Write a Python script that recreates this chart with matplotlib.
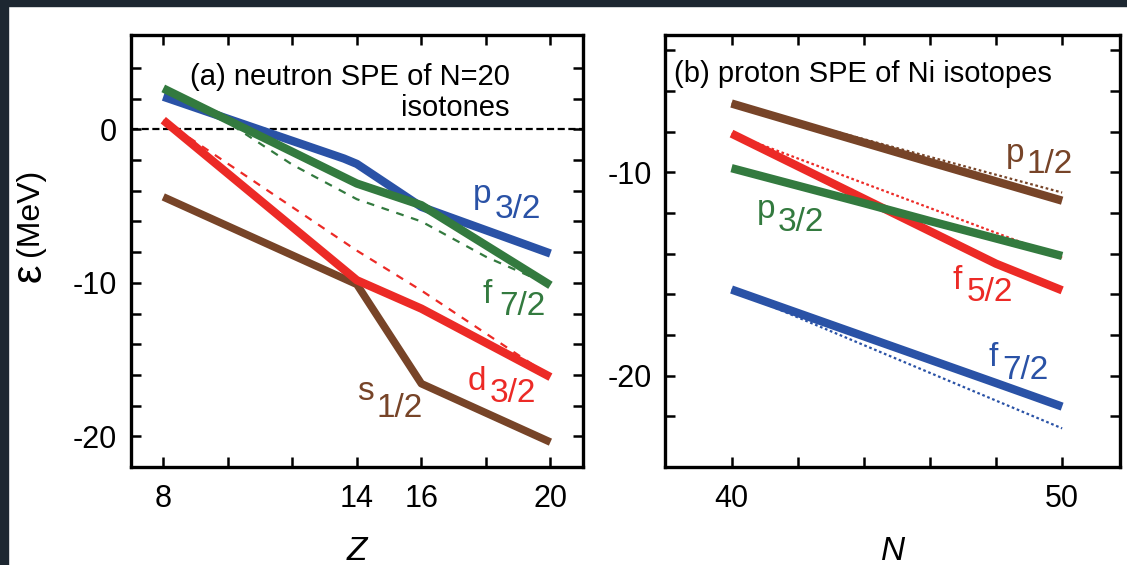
import matplotlib
matplotlib.use("Agg")
import matplotlib.pyplot as plt
from matplotlib.patches import Rectangle

plt.rcParams["font.family"] = ["Liberation Sans", "DejaVu Sans"]

BLUE = "#2a52a6"
GREEN = "#337a3f"
RED = "#ec2a26"
BROWN = "#774428"

# (a) neutron single-particle energies of N=20 isotones
z_grid = [8, 14, 16, 20]
p32_z = [8, 13.6, 14, 16, 20]
p32_e = [2.13, -1.9, -2.25, -5.05, -8.09]
f72_e = [2.67, -3.53, -4.94, -10.16]
d32_e = [0.6, -9.83, -11.68, -16.14]
s12_e = [-4.4, -10.1, -16.57, -20.38]
d32_ref_e = [0.6, -7.9, -10.5, -16.1]
f72_ref_z = [8, 10, 12, 14, 16, 18, 20]
f72_ref_e = [2.6, 0.45, -2.3, -4.55, -6.0, -8.3, -10.16]

# (b) proton single-particle energies of Ni isotopes
n_grid = [40, 42, 44, 46, 48, 50]
p12_n = [-6.62, -7.58, -8.54, -9.5, -10.45, -11.4]
f52_n = [-8.1, -9.7, -11.3, -12.9, -14.5, -15.81]
p32_n = [-9.8, -10.66, -11.52, -12.4, -13.26, -14.12]
f72_n = [-15.77, -16.92, -18.07, -19.22, -20.37, -21.53]
n_ends = [40, 50]
p12_ref = [-6.62, -11.0]
f52_ref = [-8.1, -14.2]
f72_ref = [-15.77, -22.6]


def orbit_label(ax, x, y, letter, sub, color, dx, dy):
    ax.text(x, y, letter, color=color, fontsize=24, ha="left", va="baseline")
    ax.annotate(sub, (x, y), xytext=(dx, dy), textcoords="offset pixels",
                color=color, fontsize=24, ha="left", va="baseline")


def style_axes(ax):
    for sp in ax.spines.values():
        sp.set_linewidth(2.4)
    ax.tick_params(direction="in", top=True, right=True, length=7, width=1.8,
                   labelsize=22, pad=12)
    ax.tick_params(axis="y", pad=10)


fig = plt.figure(figsize=(11.27, 5.65), dpi=100)

ax1 = fig.add_axes([131 / 1127, 98 / 565, 451.7 / 1127, 432 / 565])
ax1.axhline(0, color="black", lw=1.6, ls=(0, (3.2, 1.6)))
ax1.plot(z_grid, d32_ref_e, color=RED, lw=1.6, ls=(0, (3.5, 3.5)))
ax1.plot(f72_ref_z, f72_ref_e, color=GREEN, lw=1.6, ls=(0, (3.5, 3.5)))
ax1.plot(z_grid, s12_e, color=BROWN, lw=5.5, solid_capstyle="butt")
ax1.plot(z_grid, d32_e, color=RED, lw=6, solid_capstyle="butt")
ax1.plot(p32_z, p32_e, color=BLUE, lw=6, solid_capstyle="butt")
ax1.plot(z_grid, f72_e, color=GREEN, lw=6, solid_capstyle="butt")
ax1.set_xlim(7, 21)
ax1.set_ylim(-22, 6.15)
ax1.set_xticks(range(8, 21, 2))
ax1.set_xticklabels(["8", "", "", "14", "16", "", "20"])
ax1.set_yticks(range(-20, 5, 2))
ax1.set_yticklabels(["-20", "", "", "", "", "-10", "", "", "", "", "0", "", ""])
style_axes(ax1)
ax1.text(0.1306, 0.884, "(a) neutron SPE of N=20", transform=ax1.transAxes,
         fontsize=21, ha="left", va="baseline")
ax1.text(0.839, 0.8125, "isotones", transform=ax1.transAxes,
         fontsize=21, ha="right", va="baseline")
orbit_label(ax1, 17.59, -4.81, "p", "3/2", BLUE, 22, -15)
orbit_label(ax1, 17.90, -11.33, "f", "7/2", GREEN, 17, -12)
orbit_label(ax1, 17.43, -17.0, "d", "3/2", RED, 22, -12)
orbit_label(ax1, 14.0, -17.66, "s", "1/2", BROWN, 20, -17)
ax1.set_xlabel("Z", fontsize=24, style="italic", labelpad=16)

ax2 = fig.add_axes([665.4 / 1127, 98 / 565, 454.6 / 1127, 432 / 565])
ax2.plot(n_ends, p12_ref, color=BROWN, lw=1.6, ls=(0, (1.2, 1.2)))
ax2.plot(n_ends, f52_ref, color=RED, lw=1.6, ls=(0, (1.2, 1.2)))
ax2.plot(n_ends, f72_ref, color=BLUE, lw=1.6, ls=(0, (1.2, 1.2)))
ax2.plot(n_grid, p12_n, color=BROWN, lw=6, solid_capstyle="butt")
ax2.plot(n_grid, f52_n, color=RED, lw=6, solid_capstyle="butt")
ax2.plot(n_grid, p32_n, color=GREEN, lw=6, solid_capstyle="butt")
ax2.plot(n_grid, f72_n, color=BLUE, lw=6, solid_capstyle="butt")
ax2.set_xlim(38, 51.75)
ax2.set_ylim(-24.5, -3.25)
ax2.set_xticks(range(40, 51, 2))
ax2.set_xticklabels(["40", "", "", "", "", "50"])
ax2.set_yticks(range(-22, -3, 2))
ax2.set_yticklabels(["", "-20", "", "", "", "", "-10", "", "", ""])
style_axes(ax2)
ax2.text(0.019, 0.891, "(b) proton SPE of Ni isotopes", transform=ax2.transAxes,
         fontsize=21, ha="left", va="baseline")
orbit_label(ax2, 48.30, -9.52, "p", "1/2", BROWN, 21, -11)
orbit_label(ax2, 40.77, -12.24, "p", "3/2", GREEN, 21, -13)
orbit_label(ax2, 46.67, -15.75, "f", "5/2", RED, 15, -12)
orbit_label(ax2, 47.76, -19.55, "f", "7/2", BLUE, 14, -13)
ax2.set_xlabel("N", fontsize=24, style="italic", labelpad=16)

# y-axis label with an enlarged epsilon
fig.text(30 / 1127, 1 - 273 / 565, "\u03b5", fontsize=30, rotation=90,
         ha="center", va="center")
fig.text(30 / 1127, 1 - 212 / 565, "(MeV)", fontsize=23, rotation=90,
         ha="center", va="center")

# dark slide frame along the top and left edges
fig.patches.append(Rectangle((0, 1 - 6 / 565), 1, 6 / 565, transform=fig.transFigure,
                             color="#1d2731", zorder=10))
fig.patches.append(Rectangle((0, 0), 8 / 1127, 1, transform=fig.transFigure,
                             color="#1d2731", zorder=10))

fig.savefig("out.png", dpi=100)
